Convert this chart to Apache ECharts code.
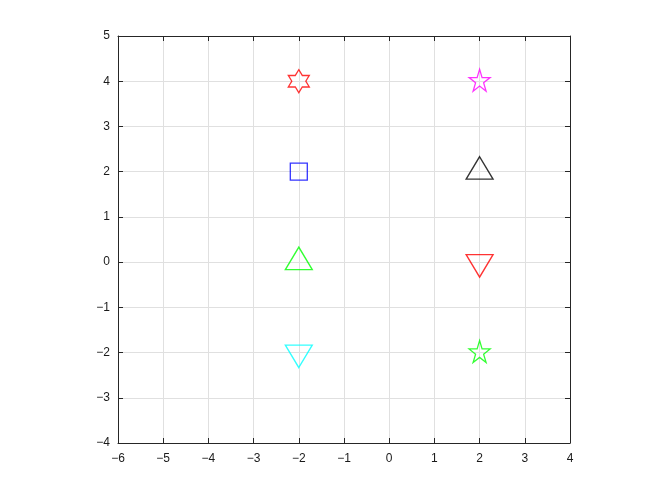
<!DOCTYPE html>
<html><head><meta charset="utf-8">
<script src="https://cdn.jsdelivr.net/npm/echarts@6/dist/echarts.min.js"></script>
<style>html,body{margin:0;padding:0;background:#fff}#c{width:664px;height:498px}</style>
</head><body><div id="c"></div>
<script>
// Data
var pointX = [-2, 2, -2, 2, -2, 2, -2, 2];
var pointY = [4, 4, 2, 2, 0, 0, -2, -2];
var pointShape = ['hexagram', 'pentagram', 'square', 'triangleUp', 'triangleUp', 'triangleDown', 'triangleDown', 'pentagram'];
var pointColor = ['#ff0000', '#ff00ff', '#0000ff', '#000000', '#00ff00', '#ff0000', '#00ffff', '#00ff00'];
var xTicks = [-6, -5, -4, -3, -2, -1, 0, 1, 2, 3, 4];
var yTicks = [-4, -3, -2, -1, 0, 1, 2, 3, 4, 5];

function starPath(n, rIn) {
  var pts = [];
  for (var i = 0; i < 2 * n; i++) {
    var r = (i % 2 === 0) ? 1 : rIn;
    var a = -Math.PI / 2 + i * Math.PI / n;
    pts.push((r * Math.cos(a) * 100).toFixed(2) + ',' + (r * Math.sin(a) * 100).toFixed(2));
  }
  return 'path://M' + pts.join('L') + 'Z';
}
var shapes = {
  hexagram: { symbol: starPath(6, 1 / Math.sqrt(3)), size: [21, 23], offset: [0, 0] },
  pentagram: { symbol: starPath(5, 0.382), size: [21, 22], offset: [0, -1] },
  square: { symbol: 'path://M0,0L10,0L10,10L0,10Z', size: [17, 17], offset: [0, 0] },
  triangleUp: { symbol: 'path://M0,-15L13.5,7.5L-13.5,7.5Z', size: [27, 22.5], offset: [0, -3.75] },
  triangleDown: { symbol: 'path://M0,15L13.5,-7.5L-13.5,-7.5Z', size: [27, 22.5], offset: [0, 3.75] }
};

var series = pointX.map(function (x, i) {
  var s = shapes[pointShape[i]];
  return {
    type: 'scatter',
    data: [[x, pointY[i]]],
    symbol: s.symbol,
    symbolSize: s.size,
    symbolOffset: s.offset,
    itemStyle: { color: 'rgba(0,0,0,0)', borderColor: pointColor[i], borderWidth: 1.3 },
    emphasis: { disabled: true },
    silent: true,
    z: 5
  };
});

function fmt(v) { return String(v).replace('-', '\u2212'); }
var axisLine = { show: true, onZero: false, lineStyle: { color: '#262626', width: 1 } };
var axisTick = { show: true, inside: true, length: 5, lineStyle: { color: '#262626' } };
var label = { color: '#1a1a1a', fontSize: 12, fontFamily: 'Liberation Sans, Arial, sans-serif', formatter: fmt };
var xMin = xTicks[0], xMax = xTicks[xTicks.length - 1];
var yMin = yTicks[0], yMax = yTicks[yTicks.length - 1];

var chart = echarts.init(document.getElementById('c'), null, { renderer: 'canvas' });
chart.setOption({
  animation: false,
  backgroundColor: '#ffffff',
  grid: { left: 118, right: 94, top: 36, bottom: 55, show: false },
  xAxis: [
    { type: 'value', position: 'bottom', min: xMin, max: xMax, interval: 1,
      axisLine: axisLine, axisTick: axisTick,
      splitLine: { show: true, lineStyle: { color: '#e0e0e0', width: 1 } },
      axisLabel: Object.assign({}, label, { margin: 10 }) },
    { type: 'value', position: 'top', min: xMin, max: xMax, interval: 1,
      axisLine: axisLine, axisTick: axisTick, splitLine: { show: false }, axisLabel: { show: false } }
  ],
  yAxis: [
    { type: 'value', position: 'left', min: yMin, max: yMax, interval: 1,
      axisLine: axisLine, axisTick: axisTick,
      splitLine: { show: true, lineStyle: { color: '#e0e0e0', width: 1 } },
      axisLabel: Object.assign({}, label, { margin: 8 }) },
    { type: 'value', position: 'right', min: yMin, max: yMax, interval: 1,
      axisLine: axisLine, axisTick: axisTick, splitLine: { show: false }, axisLabel: { show: false } }
  ],
  series: series
});
</script></body></html>
